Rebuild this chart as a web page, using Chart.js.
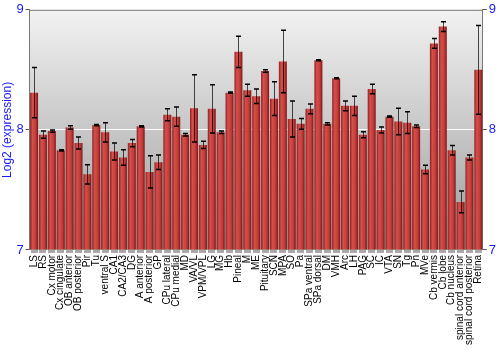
<!DOCTYPE html>
<html>
<head>
<meta charset="utf-8">
<script src="https://cdn.jsdelivr.net/npm/chart.js@4"></script>
<style>
  body { margin: 0; background: #fff; }
  #wrap { width: 500px; height: 350px; }
</style>
</head>
<body>
<div id="wrap"><canvas id="myChart"></canvas></div>
<script>
const regions = ['LS', 'RS', 'Cx motor', 'Cx cingulate', 'OB anterior', 'OB posterior', 'Pir', 'Tu',
  'ventral S', 'CA1', 'CA2/CA3', 'DG', 'A anterior', 'A posterior', 'GP', 'CPu lateral', 'CPu medial',
  'MD', 'VA/VL', 'VPM/VPL', 'LG', 'MG', 'Hb', 'Pineal', 'M', 'ME', 'Pituitary', 'SCN', 'MPA', 'SO',
  'Pa', 'SPa ventral', 'SPa dorsal', 'DM', 'VMH', 'Arc', 'LH', 'PAG', 'SC', 'IC', 'VTA', 'SN', 'Tg',
  'Pn', 'MVe', 'Cb vermis', 'Cb lobe', 'Cb nucleus', 'spinal cord anterior', 'spinal cord posterior', 'Retina'];

const expression = [8.31, 7.96, 7.99, 7.83, 8.02, 7.89, 7.63, 8.04,
  7.98, 7.82, 7.77, 7.89, 8.03, 7.65, 7.73, 8.125, 8.11,
  7.96, 8.18, 7.875, 8.175, 7.98, 8.31, 8.65, 8.33, 8.28, 8.49, 8.26, 8.57, 8.09,
  8.05, 8.175, 8.58, 8.05, 8.43, 8.2, 8.2, 7.96, 8.34, 8.0, 8.11, 8.07, 8.06,
  8.03, 7.67, 8.72, 8.86, 7.83, 7.4, 7.77, 8.5];

const stdErr = [0.21, 0.03, 0.01, 0.005, 0.015, 0.05, 0.08, 0.005,
  0.08, 0.07, 0.065, 0.03, 0.005, 0.135, 0.06, 0.05, 0.08,
  0.01, 0.28, 0.03, 0.2, 0.01, 0.005, 0.13, 0.05, 0.06, 0.01, 0.14, 0.26, 0.15,
  0.045, 0.04, 0.005, 0.01, 0.005, 0.04, 0.08, 0.025, 0.04, 0.025, 0.005, 0.11, 0.09,
  0.01, 0.035, 0.04, 0.04, 0.04, 0.09, 0.02, 0.37];

const yTicks = [7, 8, 9];

const blue = '#1a1aff';

const bgPlugin = {
  id: 'bg',
  beforeDraw(chart) {
    const { ctx, chartArea: a } = chart;
    const g = ctx.createLinearGradient(0, a.top, 0, a.bottom);
    g.addColorStop(0, '#f2f2f2');
    g.addColorStop(1, '#9c9c9c');
    ctx.save();
    ctx.fillStyle = g;
    ctx.fillRect(a.left, a.top, a.right - a.left, a.bottom - a.top);
    ctx.restore();
  }
};

const errorBars = {
  id: 'errorBars',
  afterDatasetsDraw(chart) {
    const { ctx } = chart;
    const y = chart.scales.y;
    const meta = chart.getDatasetMeta(0);
    ctx.save();
    meta.data.forEach((bar, i) => {
      const x = Math.round(bar.x) + 0.5;
      const hi = y.getPixelForValue(expression[i] + stdErr[i]);
      const lo = y.getPixelForValue(expression[i] - stdErr[i]);
      ctx.strokeStyle = 'rgba(0,0,0,0.7)';
      ctx.lineWidth = 1;
      ctx.beginPath();
      ctx.moveTo(x, hi);
      ctx.lineTo(x, lo);
      ctx.stroke();
      ctx.strokeStyle = '#000';
      ctx.lineWidth = 1.5;
      ctx.beginPath();
      ctx.moveTo(x - 2.5, hi);
      ctx.lineTo(x + 2.5, hi);
      ctx.moveTo(x - 2.5, lo);
      ctx.lineTo(x + 2.5, lo);
      ctx.stroke();
    });
    ctx.restore();
  }
};

function barFill(context) {
  const chart = context.chart;
  if (!chart.chartArea) return '#c0393b';
  const x = chart.scales.x.getPixelForValue(context.dataIndex);
  const w = 8;
  const g = chart.ctx.createLinearGradient(x - w / 2, 0, x + w / 2, 0);
  g.addColorStop(0, '#8e1e1e');
  g.addColorStop(0.3, '#d4504c');
  g.addColorStop(0.7, '#c23c3a');
  g.addColorStop(1, '#7c1414');
  return g;
}

const ctx = document.getElementById('myChart');

const myChart = new Chart(ctx, {
  type: 'bar',
  data: {
    labels: regions,
    datasets: [{
      data: expression,
      base: 7,
      backgroundColor: barFill,
      borderWidth: 0,
      barPercentage: 0.9,
      categoryPercentage: 1.0
    }]
  },
  options: {
    responsive: true,
    maintainAspectRatio: false,
    animation: false,
    layout: { padding: { top: 4, right: 2, left: 0, bottom: 3 } },
    plugins: {
      legend: { display: false },
      tooltip: { enabled: false }
    },
    scales: {
      x: {
        grid: {
          offset: false,
          drawOnChartArea: false,
          tickLength: 3,
          tickWidth: 7,
          tickColor: '#a8a8a8'
        },
        border: { display: false },
        ticks: {
          autoSkip: false,
          minRotation: 90,
          maxRotation: 90,
          padding: 2,
          color: '#000',
          font: { family: 'Liberation Sans', size: 10 }
        }
      },
      y: {
        min: 7,
        max: 9,
        afterBuildTicks: axis => { axis.ticks = yTicks.map(v => ({ value: v })); },
        grid: {
          color: c => c.tick && c.tick.value === 8 ? '#ffffff' : 'rgba(0,0,0,0)',
          tickColor: '#555',
          tickLength: 4,
          lineWidth: 1
        },
        border: { display: true, color: '#777' },
        ticks: {
          color: blue,
          padding: 2,
          font: { family: 'Liberation Sans', size: 13 }
        },
        title: {
          display: true,
          text: 'Log2 (expression)',
          color: blue,
          padding: 0,
          font: { family: 'Liberation Sans', size: 12 }
        }
      },
      y2: {
        position: 'right',
        min: 7,
        max: 9,
        afterBuildTicks: axis => { axis.ticks = yTicks.map(v => ({ value: v })); },
        grid: {
          drawOnChartArea: false,
          tickColor: '#555',
          tickLength: 4
        },
        border: { display: true, color: '#777' },
        ticks: {
          color: blue,
          padding: 2,
          font: { family: 'Liberation Sans', size: 13 }
        }
      }
    }
  },
  plugins: [bgPlugin, errorBars, {
    id: 'topLine',
    afterDraw(chart) {
      const { ctx, chartArea: a } = chart;
      ctx.save();
      ctx.strokeStyle = '#777';
      ctx.lineWidth = 1;
      ctx.beginPath();
      ctx.moveTo(a.left, a.top + 0.5);
      ctx.lineTo(a.right, a.top + 0.5);
      ctx.stroke();
      ctx.restore();
    }
  }]
});
</script>
</body>
</html>
